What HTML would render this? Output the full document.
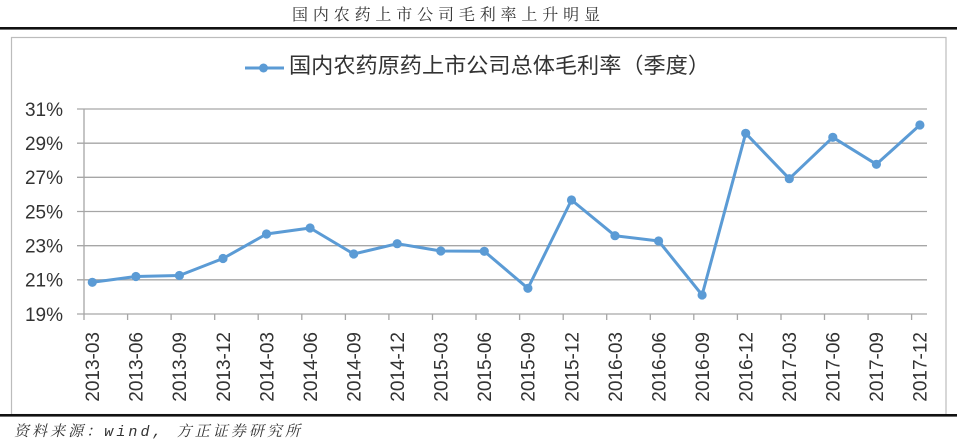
<!DOCTYPE html>
<html>
<head>
<meta charset="utf-8">
<style>
html,body{margin:0;padding:0;background:#fff;}
body{width:960px;height:441px;overflow:hidden;}
svg{display:block;}
</style>
</head>
<body>
<svg width="960" height="441" viewBox="0 0 960 441" xmlns="http://www.w3.org/2000/svg">
  <rect x="0" y="0" width="960" height="441" fill="#fff"/>
  <!-- page title -->
  <text x="292" y="20" font-family="'Liberation Serif','Noto Serif CJK SC',serif" font-size="16" fill="#333" textLength="308" lengthAdjust="spacing">国内农药上市公司毛利率上升明显</text>
  <!-- top black rule -->
  <rect x="0" y="27" width="957" height="2.6" fill="#111"/>
  <!-- chart box -->
  <rect x="11.5" y="37.5" width="934.5" height="377" fill="#fff" stroke="#bcbcbc" stroke-width="1.2"/>
  <!-- bottom black rule -->
  <rect x="0" y="414" width="957" height="2.6" fill="#111"/>

  <!-- legend -->
  <line x1="245" y1="68" x2="284" y2="68" stroke="#5b9bd5" stroke-width="3"/>
  <circle cx="263.5" cy="68" r="4.5" fill="#5b9bd5"/>
  <text x="289" y="73" font-family="'Liberation Sans','Noto Sans CJK SC',sans-serif" font-size="21.5" fill="#333" textLength="421" lengthAdjust="spacingAndGlyphs">国内农药原药上市公司总体毛利率（季度）</text>

  <!-- gridlines -->
  <g stroke="#a6a6a6" stroke-width="1.3">
    <line x1="77" y1="109" x2="927" y2="109"/>
    <line x1="77" y1="143.2" x2="927" y2="143.2"/>
    <line x1="77" y1="177.3" x2="927" y2="177.3"/>
    <line x1="77" y1="211.5" x2="927" y2="211.5"/>
    <line x1="77" y1="245.7" x2="927" y2="245.7"/>
    <line x1="77" y1="279.8" x2="927" y2="279.8"/>
    <line x1="77" y1="314" x2="927" y2="314"/>
    <line x1="84" y1="109" x2="84" y2="320"/>
  </g>
  <!-- x ticks -->
  <g stroke="#a6a6a6" stroke-width="1.3">
    <line x1="127.6" y1="314" x2="127.6" y2="320"/>
    <line x1="171.1" y1="314" x2="171.1" y2="320"/>
    <line x1="214.7" y1="314" x2="214.7" y2="320"/>
    <line x1="258.2" y1="314" x2="258.2" y2="320"/>
    <line x1="301.8" y1="314" x2="301.8" y2="320"/>
    <line x1="345.4" y1="314" x2="345.4" y2="320"/>
    <line x1="388.9" y1="314" x2="388.9" y2="320"/>
    <line x1="432.5" y1="314" x2="432.5" y2="320"/>
    <line x1="476.0" y1="314" x2="476.0" y2="320"/>
    <line x1="519.6" y1="314" x2="519.6" y2="320"/>
    <line x1="563.2" y1="314" x2="563.2" y2="320"/>
    <line x1="606.7" y1="314" x2="606.7" y2="320"/>
    <line x1="650.3" y1="314" x2="650.3" y2="320"/>
    <line x1="693.8" y1="314" x2="693.8" y2="320"/>
    <line x1="737.4" y1="314" x2="737.4" y2="320"/>
    <line x1="781.0" y1="314" x2="781.0" y2="320"/>
    <line x1="824.5" y1="314" x2="824.5" y2="320"/>
    <line x1="868.1" y1="314" x2="868.1" y2="320"/>
    <line x1="911.6" y1="314" x2="911.6" y2="320"/>
  </g>

  <!-- y labels -->
  <g font-family="'Liberation Sans',sans-serif" font-size="19" fill="#333" text-anchor="end">
    <text x="63" y="115.8">31%</text>
    <text x="63" y="150">29%</text>
    <text x="63" y="184.1">27%</text>
    <text x="63" y="218.3">25%</text>
    <text x="63" y="252.5">23%</text>
    <text x="63" y="286.6">21%</text>
    <text x="63" y="320.8">19%</text>
  </g>

  <!-- x labels -->
  <g font-family="'Liberation Sans',sans-serif" font-size="19" fill="#333" text-anchor="end">
    <text transform="translate(99.1,332) rotate(-90)">2013-03</text>
    <text transform="translate(142.7,332) rotate(-90)">2013-06</text>
    <text transform="translate(186.2,332) rotate(-90)">2013-09</text>
    <text transform="translate(229.8,332) rotate(-90)">2013-12</text>
    <text transform="translate(273.3,332) rotate(-90)">2014-03</text>
    <text transform="translate(316.9,332) rotate(-90)">2014-06</text>
    <text transform="translate(360.5,332) rotate(-90)">2014-09</text>
    <text transform="translate(404.0,332) rotate(-90)">2014-12</text>
    <text transform="translate(447.6,332) rotate(-90)">2015-03</text>
    <text transform="translate(491.1,332) rotate(-90)">2015-06</text>
    <text transform="translate(534.7,332) rotate(-90)">2015-09</text>
    <text transform="translate(578.3,332) rotate(-90)">2015-12</text>
    <text transform="translate(621.8,332) rotate(-90)">2016-03</text>
    <text transform="translate(665.4,332) rotate(-90)">2016-06</text>
    <text transform="translate(708.9,332) rotate(-90)">2016-09</text>
    <text transform="translate(752.5,332) rotate(-90)">2016-12</text>
    <text transform="translate(796.1,332) rotate(-90)">2017-03</text>
    <text transform="translate(839.6,332) rotate(-90)">2017-06</text>
    <text transform="translate(883.2,332) rotate(-90)">2017-09</text>
    <text transform="translate(926.7,332) rotate(-90)">2017-12</text>
  </g>

  <!-- series -->
  <polyline fill="none" stroke="#5b9bd5" stroke-width="3" stroke-linejoin="round"
    points="92.3,282.3 135.9,276.5 179.4,275.5 223.0,258.5 266.5,234 310.1,228 353.7,254 397.2,243.7 440.8,251 484.3,251.3 527.9,288.3 571.5,200 615.0,235.7 658.6,241 702.1,295 745.7,133.3 789.3,178.7 832.8,137.3 876.4,164.3 919.9,125"/>
  <g fill="#5b9bd5">
    <circle cx="92.3" cy="282.3" r="4.6"/>
    <circle cx="135.9" cy="276.5" r="4.6"/>
    <circle cx="179.4" cy="275.5" r="4.6"/>
    <circle cx="223.0" cy="258.5" r="4.6"/>
    <circle cx="266.5" cy="234" r="4.6"/>
    <circle cx="310.1" cy="228" r="4.6"/>
    <circle cx="353.7" cy="254" r="4.6"/>
    <circle cx="397.2" cy="243.7" r="4.6"/>
    <circle cx="440.8" cy="251" r="4.6"/>
    <circle cx="484.3" cy="251.3" r="4.6"/>
    <circle cx="527.9" cy="288.3" r="4.6"/>
    <circle cx="571.5" cy="200" r="4.6"/>
    <circle cx="615.0" cy="235.7" r="4.6"/>
    <circle cx="658.6" cy="241" r="4.6"/>
    <circle cx="702.1" cy="295" r="4.6"/>
    <circle cx="745.7" cy="133.3" r="4.6"/>
    <circle cx="789.3" cy="178.7" r="4.6"/>
    <circle cx="832.8" cy="137.3" r="4.6"/>
    <circle cx="876.4" cy="164.3" r="4.6"/>
    <circle cx="919.9" cy="125" r="4.6"/>
  </g>

  <!-- source -->
  <text x="14" y="436" font-family="'Liberation Mono','Noto Serif CJK SC',serif" font-size="15" font-style="italic" fill="#333" textLength="286" lengthAdjust="spacing">资料来源：wind, 方正证券研究所</text>
</svg>
</body>
</html>
